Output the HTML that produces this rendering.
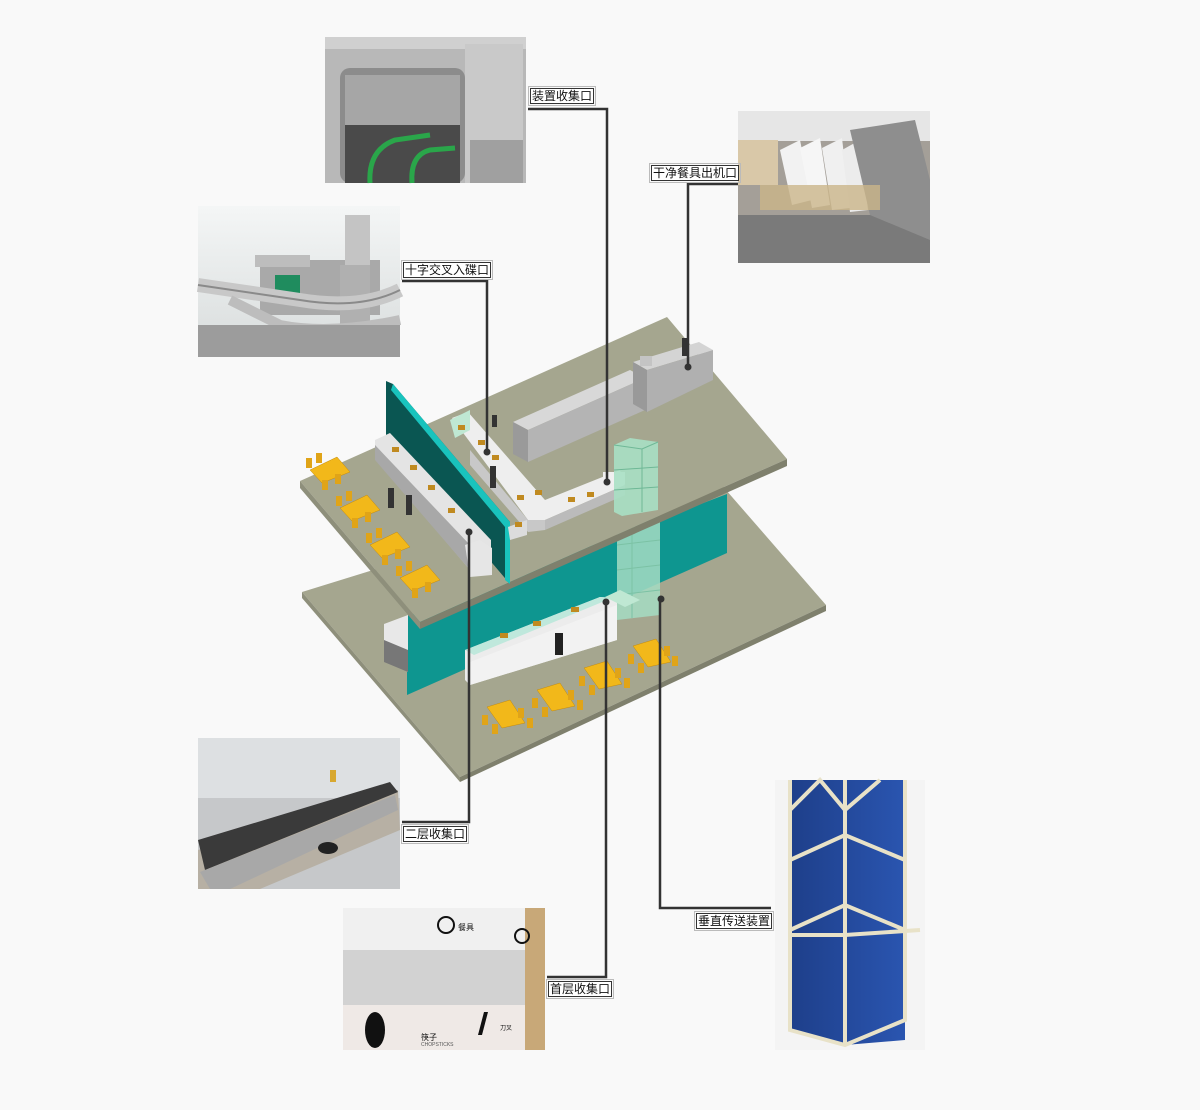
<!DOCTYPE html>
<html><head><meta charset="utf-8"><style>
html,body{margin:0;padding:0;background:#f9f9f9;}
body{width:1200px;height:1110px;position:relative;overflow:hidden;font-family:"Liberation Sans","Noto Sans CJK SC",sans-serif;}
.lb{position:absolute;background:#fff;border:1px solid #333;outline:1px solid #bbb;outline-offset:1px;font-size:12px;line-height:14px;padding:0 1px;color:#111;white-space:nowrap;}
</style></head><body>
<svg width="1200" height="1110" viewBox="0 0 1200 1110" style="position:absolute;left:0;top:0">
<defs>
<linearGradient id="blue" x1="0" y1="0" x2="1" y2="0"><stop offset="0" stop-color="#1e3f8a"/><stop offset="1" stop-color="#2a55b0"/></linearGradient>
<linearGradient id="wall" x1="0" y1="0" x2="0" y2="1"><stop offset="0" stop-color="#f4f6f6"/><stop offset="1" stop-color="#d8dcdc"/></linearGradient>
</defs>

<!-- Photo 1 top -->
<g>
<rect x="325" y="37" width="201" height="146" fill="#b8b8b8"/>
<rect x="325" y="37" width="201" height="12" fill="#d0d0d0"/>
<rect x="465" y="44" width="58" height="139" fill="#c9c9c9"/>
<rect x="340" y="68" width="125" height="115" rx="10" fill="#8c8c8c"/>
<rect x="345" y="75" width="115" height="50" fill="#a6a6a6"/>
<rect x="345" y="125" width="115" height="58" fill="#4a4a4a"/>
<path d="M370 183 Q368 150 395 140 L430 135" stroke="#2aa64a" stroke-width="5" fill="none"/>
<path d="M412 183 Q410 155 430 150 L455 148" stroke="#2aa64a" stroke-width="5" fill="none"/>
<rect x="470" y="140" width="53" height="43" fill="#a0a0a0"/>
</g>
<!-- Photo 2 right top -->
<g>
<rect x="738" y="111" width="192" height="152" fill="#a49f98"/>
<rect x="738" y="111" width="192" height="30" fill="#e6e6e6"/>
<rect x="738" y="215" width="192" height="48" fill="#7a7a7a"/>
<rect x="738" y="140" width="40" height="45" fill="#d9c8a8"/>
<polygon points="780,150 800,140 812,200 792,205" fill="#f2f2f2"/>
<polygon points="800,148 820,138 830,205 812,208" fill="#f6f6f6"/>
<polygon points="822,148 842,138 850,208 832,210" fill="#f0f0f0"/>
<polygon points="842,150 860,140 868,210 850,212" fill="#ececec"/>
<polygon points="850,130 915,120 930,180 930,240 870,215" fill="#8e8e8e"/>
<rect x="760" y="185" width="120" height="25" fill="#cbb58a" opacity=".8"/>
</g>
<!-- Photo 3 left -->
<g>
<rect x="198" y="206" width="202" height="151" fill="url(#wall)"/>
<rect x="260" y="260" width="120" height="55" fill="#a9a9a9"/>
<rect x="255" y="255" width="55" height="12" fill="#bdbdbd"/>
<rect x="275" y="275" width="25" height="28" fill="#1f8c5e"/>
<rect x="345" y="215" width="25" height="50" fill="#c4c4c4"/>
<rect x="340" y="265" width="30" height="60" fill="#b0b0b0"/>
<path d="M198 285 L300 300 Q360 310 400 290" stroke="#c8c8c8" stroke-width="14" fill="none"/>
<path d="M198 285 L300 300 Q360 310 400 290" stroke="#8a8a8a" stroke-width="2" fill="none"/>
<path d="M230 300 L280 325 Q330 335 400 320" stroke="#bdbdbd" stroke-width="10" fill="none"/>
<rect x="198" y="325" width="202" height="32" fill="#9c9c9c"/>
</g>
<!-- Photo 4 left bottom -->
<g>
<rect x="198" y="738" width="202" height="151" fill="#c6c8ca"/>
<rect x="198" y="738" width="202" height="60" fill="#dde0e2"/>
<polygon points="198,850 398,790 400,830 260,889 198,889" fill="#b7b0a4"/>
<polygon points="198,840 390,782 398,792 205,870" fill="#3a3a3a"/>
<polygon points="200,872 395,795 398,810 230,889 210,889" fill="#a8a8a8"/>
<ellipse cx="328" cy="848" rx="10" ry="6" fill="#222"/>
<rect x="330" y="770" width="6" height="12" fill="#d8a830"/>
</g>
<!-- Photo 5 bottom middle -->
<g>
<rect x="343" y="908" width="202" height="142" fill="#e6e6e6"/>
<rect x="343" y="908" width="202" height="42" fill="#f0f0f0"/>
<rect x="343" y="950" width="202" height="55" fill="#d2d2d2"/>
<rect x="343" y="1005" width="202" height="45" fill="#efe9e6"/>
<rect x="525" y="908" width="20" height="142" fill="#c8a878"/>
<circle cx="446" cy="925" r="8" fill="none" stroke="#111" stroke-width="2"/>
<text x="458" y="930" font-size="8" fill="#111" font-family="Liberation Sans,'Noto Sans CJK SC',sans-serif">餐具</text>
<circle cx="522" cy="936" r="7" fill="none" stroke="#111" stroke-width="2"/>
<ellipse cx="375" cy="1030" rx="10" ry="18" fill="#111"/>
<polygon points="478,1035 484,1012 488,1012 482,1035" fill="#111"/>
<text x="421" y="1040" font-size="8" fill="#111" font-family="Liberation Sans,'Noto Sans CJK SC',sans-serif">筷子</text>
<text x="421" y="1046" font-size="5" fill="#555" font-family="Liberation Sans,sans-serif">CHOPSTICKS</text>
<text x="500" y="1030" font-size="6" fill="#111" font-family="Liberation Sans,'Noto Sans CJK SC',sans-serif">刀叉</text>
</g>
<!-- Photo 6 blue cabinet -->
<g>
<rect x="775" y="780" width="150" height="270" fill="#f4f4f4"/>
<polygon points="790,780 845,780 905,780 905,1040 845,1045 790,1030" fill="url(#blue)"/>
<g stroke="#e8e2c8" stroke-width="4" fill="none">
<polyline points="790,780 790,1030 845,1045 905,1020 905,780"/>
<line x1="845" y1="780" x2="845" y2="1045"/>
<polyline points="790,810 820,780 845,810 880,780"/>
<polyline points="790,860 845,835 905,860"/>
<polyline points="790,930 845,905 905,930"/>
<polyline points="790,935 845,935 920,930"/>
</g>
</g>

<!-- Lower slab -->
<polygon points="302,592 706,467 826,605 460,777" fill="#a5a68f"/>
<polygon points="302,592 460,777 460,782 302,598" fill="#8e8f7b"/>
<polygon points="460,777 826,605 826,611 460,782" fill="#7f806d"/>
<polygon points="407,616 727,494 727,553 407,695" fill="#0e9690"/>
<polygon points="384,624 408,615 408,672 384,660" fill="#e8e8e8"/>
<polygon points="384,640 408,650 408,672 384,662" fill="#777"/>
<polygon points="465,650 600,597 617,598 617,640 470,685 465,680" fill="#ececec"/>
<polygon points="465,650 600,597 612,598 474,655" fill="#bfe8dc"/>
<polygon points="470,662 617,605 617,640 470,685" fill="#f2f2f2"/>
<rect x="500" y="633" width="8" height="5" fill="#c08a20"/><rect x="533" y="621" width="8" height="5" fill="#c08a20"/><rect x="571" y="607" width="8" height="5" fill="#c08a20"/>
<rect x="555" y="633" width="8" height="22" fill="#222"/>
<polygon points="617,520 660,515 660,615 617,620" fill="#a5dcc3" opacity=".85"/>
<g stroke="#7cc2a5" stroke-width="1"><line x1="617" y1="545" x2="660" y2="540"/><line x1="617" y1="570" x2="660" y2="565"/><line x1="617" y1="595" x2="660" y2="590"/><line x1="632" y1="520" x2="632" y2="618"/></g>
<polygon points="605,597 620,590 640,600 625,607" fill="#bfe8d3"/>
<g fill="#f2b81a" stroke="#c28a10" stroke-width=".5">
<polygon points="487,707 510,700 525,723 502,728"/>
<polygon points="537,690 560,683 575,706 552,711"/>
<polygon points="584,668 607,661 622,684 599,689"/>
<polygon points="633,646 656,639 671,662 648,667"/>
</g>
<g fill="#e0a418">
<rect x="482" y="715" width="6" height="10"/><rect x="492" y="724" width="6" height="10"/><rect x="518" y="708" width="6" height="10"/><rect x="527" y="718" width="6" height="10"/>
<rect x="532" y="698" width="6" height="10"/><rect x="542" y="707" width="6" height="10"/><rect x="568" y="690" width="6" height="10"/><rect x="577" y="700" width="6" height="10"/>
<rect x="579" y="676" width="6" height="10"/><rect x="589" y="685" width="6" height="10"/><rect x="615" y="668" width="6" height="10"/><rect x="624" y="678" width="6" height="10"/>
<rect x="628" y="654" width="6" height="10"/><rect x="638" y="663" width="6" height="10"/><rect x="664" y="646" width="6" height="10"/><rect x="672" y="656" width="6" height="10"/>
</g>

<!-- Upper slab -->
<polygon points="300,481 667,317 787,459 420,622" fill="#a5a68f"/>
<polygon points="300,481 420,622 420,629 300,488" fill="#8e8f7b"/>
<polygon points="420,622 787,459 787,466 420,629" fill="#7f806d"/>
<!-- dishwasher -->
<polygon points="513,422 528,430 645,378 630,370" fill="#d8d8d8"/>
<polygon points="528,430 645,378 645,410 528,462" fill="#b4b4b4"/>
<polygon points="513,422 528,430 528,462 513,454" fill="#9a9a9a"/>
<polygon points="633,362 647,370 713,350 699,342" fill="#d4d4d4"/>
<polygon points="647,370 713,350 713,380 647,412" fill="#b0b0b0"/>
<polygon points="633,362 647,370 647,412 633,404" fill="#999"/>
<rect x="640" y="356" width="12" height="10" fill="#c4c4c4"/>
<rect x="682" y="338" width="6" height="18" fill="#333"/>
<!-- upper teal panel -->
<polygon points="386,381 393,384 510,522 510,584 386,438" fill="#0a5652"/>
<polygon points="393,384 510,522 510,584 505,580 505,527 391,390" fill="#19c3bd"/>
<!-- upper counter -->
<polygon points="375,440 390,433 491,540 491,560 470,570 375,458" fill="#e4e4e4"/>
<polygon points="375,445 470,545 470,570 375,460" fill="#a8a8a8"/>
<polygon points="465,545 480,540 492,548 492,575 470,577" fill="#e6e6e6"/>
<g fill="#c08a20"><rect x="392" y="447" width="7" height="5"/><rect x="410" y="465" width="7" height="5"/><rect x="428" y="485" width="7" height="5"/><rect x="448" y="508" width="7" height="5"/></g>
<!-- L conveyor -->
<polygon points="452,418 468,412 545,500 620,470 625,485 545,520 528,520" fill="#eeeeee"/>
<polygon points="528,520 545,520 545,530 528,532 470,465 470,450" fill="#c8c8c8"/>
<polygon points="545,520 625,485 625,495 545,530" fill="#bbbbbb"/>
<polygon points="508,527 527,520 527,535 510,540" fill="#dcdcdc"/>
<polygon points="450,420 470,410 470,430 455,438" fill="#bfe8d3"/>
<g fill="#c08a20"><rect x="458" y="425" width="7" height="5"/><rect x="478" y="440" width="7" height="5"/><rect x="492" y="455" width="7" height="5"/><rect x="517" y="495" width="7" height="5"/><rect x="535" y="490" width="7" height="5"/><rect x="568" y="497" width="7" height="5"/><rect x="587" y="492" width="7" height="5"/><rect x="515" y="522" width="7" height="5"/></g>
<rect x="603" y="472" width="22" height="12" fill="#f0f0f0"/>
<g fill="#333"><rect x="388" y="488" width="6" height="20"/><rect x="406" y="495" width="6" height="20"/><rect x="490" y="466" width="6" height="22"/><rect x="492" y="415" width="5" height="12"/></g>
<!-- upper glass tower -->
<polygon points="614,445 630,438 658,442 658,510 622,516 614,512" fill="#a8e0c4" opacity=".9"/>
<g stroke="#6fb896" stroke-width="1" fill="none"><polyline points="614,445 642,449 658,442"/><line x1="642" y1="449" x2="642" y2="512"/><line x1="614" y1="470" x2="658" y2="467"/><line x1="614" y1="490" x2="658" y2="487"/></g>
<g fill="#f2b81a" stroke="#c28a10" stroke-width=".5">
<polygon points="310,470 337,457 350,472 322,483"/>
<polygon points="340,508 367,495 380,510 352,521"/>
<polygon points="370,545 397,532 410,547 382,558"/>
<polygon points="400,578 427,565 440,580 412,591"/>
</g>
<g fill="#e0a418">
<rect x="306" y="458" width="6" height="10"/><rect x="316" y="453" width="6" height="10"/><rect x="322" y="480" width="6" height="10"/><rect x="335" y="474" width="6" height="10"/>
<rect x="336" y="496" width="6" height="10"/><rect x="346" y="491" width="6" height="10"/><rect x="352" y="518" width="6" height="10"/><rect x="365" y="512" width="6" height="10"/>
<rect x="366" y="533" width="6" height="10"/><rect x="376" y="528" width="6" height="10"/><rect x="382" y="555" width="6" height="10"/><rect x="395" y="549" width="6" height="10"/>
<rect x="396" y="566" width="6" height="10"/><rect x="406" y="561" width="6" height="10"/><rect x="412" y="588" width="6" height="10"/><rect x="425" y="582" width="6" height="10"/>
</g>

<!-- connector lines -->
<g stroke="#333" stroke-width="2.5" fill="none">
<polyline points="528,109 607,109 607,482"/>
<polyline points="738,184 688,184 688,367"/>
<polyline points="402,281 487,281 487,452"/>
<polyline points="402,822 469,822 469,532"/>
<polyline points="547,977 606,977 606,602"/>
<polyline points="771,908 660,908 660,599"/>
</g>
<g fill="#333"><circle cx="607" cy="482" r="3.5"/><circle cx="688" cy="367" r="3.5"/><circle cx="487" cy="452" r="3.5"/><circle cx="469" cy="532" r="3.5"/><circle cx="606" cy="602" r="3.5"/><circle cx="661" cy="599" r="3.5"/></g>
</svg>
<div class="lb" style="left:530px;top:88px">装置收集口</div>
<div class="lb" style="left:651px;top:165px">干净餐具出机口</div>
<div class="lb" style="left:403px;top:262px">十字交叉入碟口</div>
<div class="lb" style="left:403px;top:826px">二层收集口</div>
<div class="lb" style="left:548px;top:981px">首层收集口</div>
<div class="lb" style="left:696px;top:913px">垂直传送装置</div>
</body></html>
